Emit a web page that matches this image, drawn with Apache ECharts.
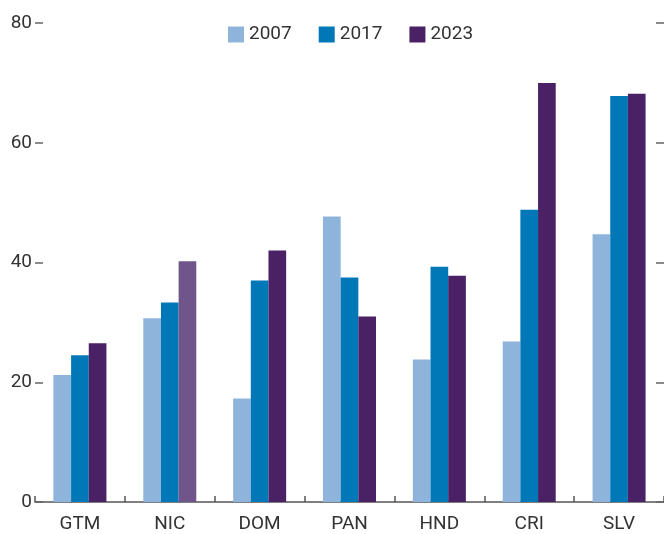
<!DOCTYPE html>
<html>
<head>
<meta charset="utf-8">
<script src="https://cdn.jsdelivr.net/npm/echarts@6/dist/echarts.min.js"></script>
<style>
  html, body { margin: 0; padding: 0; background: #fff; }
  #chart { width: 664px; height: 534px; }
</style>
</head>
<body>
<div id="chart"></div>
<script>
var countries = ['GTM', 'NIC', 'DOM', 'PAN', 'HND', 'CRI', 'SLV'];
var years = ['2007', '2017', '2023'];
var v2007 = [21.2, 30.7, 17.3, 47.7, 23.8, 26.8, 44.7];
var v2017 = [24.5, 33.3, 37.0, 37.5, 39.3, 48.8, 67.8];
var v2023 = [26.5, 40.2, 42.0, 31.0, 37.8, 70.0, 68.2];
var yTicks = [0, 20, 40, 60, 80];

var colors = ['#8fb4dc', '#0078b8', '#4a2164'];
var font = '"Liberation Sans Narrow", "Roboto", "Liberation Sans", sans-serif';

// NIC 2023 is drawn in a lighter purple
var d2023 = v2023.map(function (v, i) {
  if (countries[i] === 'NIC') {
    return { value: v, itemStyle: { color: '#6f5589' } };
  }
  return v;
});

function yAxis(pos, showLabel) {
  return {
    type: 'value',
    position: pos,
    min: yTicks[0],
    max: yTicks[yTicks.length - 1],
    interval: 20,
    axisLine: { show: false },
    axisTick: { show: true, inside: true, length: 8, lineStyle: { color: '#666', width: 1.5 } },
    axisLabel: { show: showLabel, color: '#333', fontSize: 19, fontFamily: font, margin: 3 },
    splitLine: { show: false }
  };
}

var chart = echarts.init(document.getElementById('chart'));
chart.setOption({
  animation: false,
  color: colors,
  legend: {
    top: 20,
    left: 223,
    icon: 'rect',
    itemWidth: 16,
    itemHeight: 16,
    itemGap: 27,
    textStyle: { color: '#333', fontSize: 19, fontFamily: font },
    data: years
  },
  grid: { left: 35, right: 0, top: 23, bottom: 32, containLabel: false },
  xAxis: {
    type: 'category',
    data: countries,
    axisLine: { lineStyle: { color: '#555', width: 1.5 } },
    axisTick: { show: true, inside: true, length: 6, lineStyle: { color: '#555', width: 1.5 } },
    axisLabel: { color: '#333', fontSize: 19, fontFamily: font, margin: 13 }
  },
  yAxis: [yAxis('left', true), yAxis('right', false)],
  series: [
    { name: years[0], type: 'bar', data: v2007, barGap: 0, barCategoryGap: '41%' },
    { name: years[1], type: 'bar', data: v2017, barGap: 0, barCategoryGap: '41%' },
    { name: years[2], type: 'bar', data: d2023, barGap: 0, barCategoryGap: '41%' }
  ]
});
</script>
</body>
</html>
